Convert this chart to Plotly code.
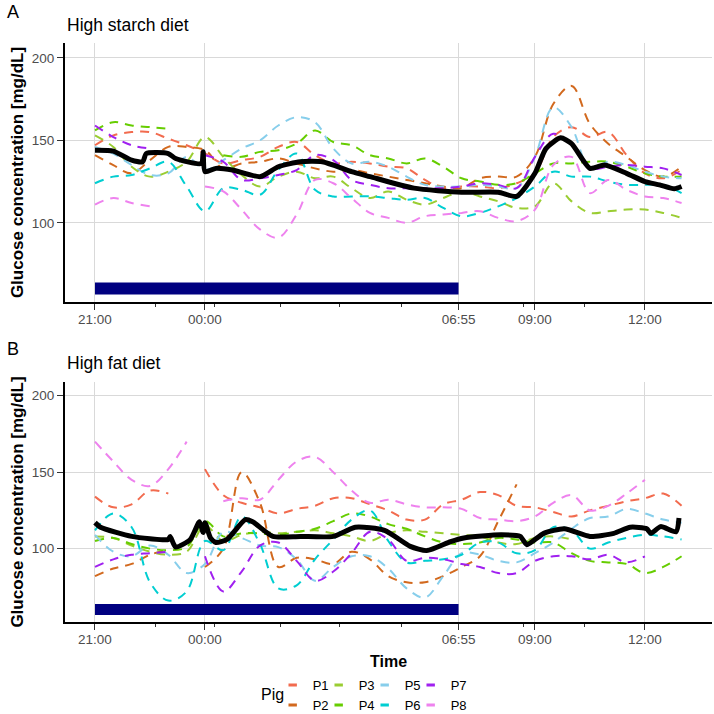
import plotly.graph_objects as go
from datetime import datetime, timedelta

# ---------------- data ----------------
pigs = ["P1", "P2", "P3", "P4", "P5", "P6", "P7", "P8"]
pig_colors = ["#F26B4E", "#D2691E", "#9ACD32", "#66CD00", "#87CEEB", "#00CED1", "#A020F0", "#EE82EE"]

# hours after 21:00, 30-minute steps
hours = [i * 0.5 for i in range(33)]

starch_P1 = [147,153,155,155,151,147,142,136,138,140,146,149,141,136,137,136,134,133,126,121,122,122,121,124,130,152,158,152,155,141,130,127,132]
starch_P2 = [141,135,130,138,146,146,144,133,136,137,139,136,133,131,132,130,128,126,124,122,121,127,128,128,140,172,183,160,148,140,132,128,134]
starch_P3 = [153,146,134,128,131,137,152,140,129,122,128,131,127,128,121,115,119,114,111,115,119,116,113,109,110,124,113,106,107,108,108,106,103]
starch_P4 = [156,161,159,158,157,None,None,141,140,143,144,148,156,149,147,141,139,136,139,134,127,125,123,124,130,136,136,137,137,134,130,128,128]
starch_P5 = [146,142,135,129,130,140,132,138,145,150,159,164,161,145,136,137,134,128,123,122,122,123,122,121,140,170,158,133,137,135,131,128,127]
starch_P6 = [124,128,129,133,137,122,107,121,120,117,132,142,120,116,116,116,115,114,115,109,104,106,110,115,122,131,128,128,125,123,123,123,118]
starch_P7 = [159,152,147,145,None,None,141,137,126,127,129,132,141,138,126,123,121,121,121,121,122,124,123,121,140,154,147,133,134,135,134,133,129]
starch_P8 = [111,115,112,110,None,None,122,119,108,96,91,105,126,124,115,106,103,100,104,105,106,107,103,101,108,135,140,118,126,120,116,115,112]

fat_P1 = [134,127,129,138,136,None,152,135,130,127,123,126,128,133,133,129,125,119,119,129,132,137,135,128,127,124,121,125,128,131,133,136,128]
fat_P2 = [82,87,90,96,99,None,88,100,150,130,88,94,93,90,98,93,82,78,78,82,88,95,118,142,None,None,None,None,None,None,None,None,None]
fat_P3 = [108,107,102,98,96,98,115,105,109,111,110,111,112,110,108,105,110,112,111,110,109,108,104,103,107,108,106,None,None,None,None,None,None]
fat_P4 = [105,107,103,100,99,101,118,108,110,110,109,111,113,118,123,121,116,113,108,104,103,104,107,106,104,104,97,92,91,90,84,88,95]
fat_P5 = [109,98,95,102,96,84,90,111,107,102,101,93,79,88,95,95,87,74,68,82,97,96,92,91,97,104,113,120,121,126,123,119,117]
fat_P6 = [112,123,114,78,66,72,105,99,121,103,74,76,93,106,119,125,105,91,92,93,96,104,104,97,99,114,112,100,104,107,109,108,106]
fat_P7 = [88,93,96,97,98,None,95,72,85,102,104,92,79,85,97,111,106,92,94,93,90,88,84,84,92,95,95,93,96,91,95,None,None]
fat_P8 = [170,157,145,141,152,170,None,131,133,132,145,157,160,150,138,130,132,129,127,127,126,120,119,118,121,130,135,125,128,136,145,None,None]

mean_starch_hours = [0,0.5,1.0,1.3,1.4,2.0,2.2,2.9,2.95,3.0,3.3,3.75,4.5,5.0,5.6,6.2,7.0,7.5,8.7,10.0,11.0,11.5,12.0,12.3,12.7,13.0,13.5,13.9,14.5,15.0,15.4,15.8,16.0]
mean_starch = [144,143.5,138,137,142,142,139,136,143,131,133,132,128,134,137,137,131,128,121,118.5,118.5,116,130,145,151.5,148,133,135,130,125,123,120.6,122]

mean_fat_hours = [0,0.15,1.0,1.5,2.0,2.05,2.2,2.6,2.85,2.95,3.0,3.15,3.3,3.6,4.1,4.3,4.85,5.6,6.5,7.1,7.9,8.6,9.05,9.7,10.06,11.07,11.6,11.78,12.24,12.8,13.5,14.15,14.6,15.05,15.16,15.43,15.85,15.93]
mean_fat = [117,114,108,106.5,106,108,101,106,117.6,110.5,117,107,104,106,119,117.6,108,108,108,114,112,101.5,98.7,104.6,107,109,108,102.6,110,113,108,110,114,113,110,114.4,111,120]

night_start_h = 0.0          # 21:00
night_end_h = 9 + 55 / 60    # 06:55

tick_hours = [0, 3, night_end_h, 12, 15]
tick_labels = ["21:00", "00:00", "06:55", "09:00", "12:00"]
minor_tick_hours = [1.64, 3.27, 5.05, 6.68, 8.35, 11.70, 13.34]

# ---------------- helpers ----------------
BASE = datetime(2021, 1, 1, 21, 0)
def T(h):
    return BASE + timedelta(hours=h)

starch = [starch_P1, starch_P2, starch_P3, starch_P4, starch_P5, starch_P6, starch_P7, starch_P8]
fat = [fat_P1, fat_P2, fat_P3, fat_P4, fat_P5, fat_P6, fat_P7, fat_P8]

FONT = "Liberation Sans, Arial, sans-serif"
fig = go.Figure()

for panel, (series, mh, mv) in enumerate([(starch, mean_starch_hours, mean_starch),
                                           (fat, mean_fat_hours, mean_fat)]):
    xa = "x" if panel == 0 else "x2"
    ya = "y" if panel == 0 else "y2"
    for name, col, vals in zip(pigs, pig_colors, series):
        fig.add_trace(go.Scatter(
            x=[T(h) for h in hours], y=vals, mode="lines",
            line=dict(color=col, width=2, dash="9px,7px", shape="spline", smoothing=1.0),
            connectgaps=False, showlegend=False, name=name, xaxis=xa, yaxis=ya,
            hoverinfo="skip"))
    fig.add_trace(go.Scatter(
        x=[T(h) for h in mh], y=mv, mode="lines",
        line=dict(color="black", width=5, shape="spline", smoothing=0.6),
        showlegend=False, name="Mean", xaxis=xa, yaxis=ya, hoverinfo="skip"))
    fig.add_shape(type="rect", xref=xa, yref=ya,
                  x0=T(night_start_h), x1=T(night_end_h), y0=56.5, y1=63.8,
                  fillcolor="#000080", line=dict(width=0), layer="above")

# legend entries (two rows, column-major like the original)
for i, (name, col) in enumerate(zip(pigs, pig_colors)):
    fig.add_trace(go.Scatter(
        x=[None], y=[None], mode="markers", name=name,
        marker=dict(symbol="line-ew", size=6, color=col, line=dict(color=col, width=3)),
        legend="legend" if i % 2 == 0 else "legend2", showlegend=True,
        legendwidth=(20 if i >= 6 else 1)))

x_range = [T(-0.818), T(16.83)]
common_x = dict(
    range=x_range, tickmode="array", tickvals=[T(h) for h in tick_hours], ticktext=tick_labels,
    showgrid=True, gridcolor="#D9D9D9", gridwidth=1, zeroline=False,
    showline=True, linecolor="black", linewidth=2,
    ticks="outside", ticklen=6, tickwidth=1, tickcolor="#333333",
    ticklabelstandoff=-2,
    tickfont=dict(family=FONT, size=13.5, color="#4D4D4D"),
    minor=dict(tickmode="array", tickvals=[T(h) for h in minor_tick_hours],
               ticks="outside", ticklen=3, tickwidth=1, tickcolor="#333333", showgrid=False),
)
common_y = dict(
    range=[52, 209], tickmode="array", tickvals=[100, 150, 200],
    showgrid=True, gridcolor="#D9D9D9", gridwidth=1, zeroline=False,
    showline=True, linecolor="black", linewidth=2,
    ticks="outside", ticklen=6, tickwidth=1, tickcolor="#333333",
    tickfont=dict(family=FONT, size=13.5, color="#4D4D4D"),
    title=dict(text="<b>Glucose concentration [mg/dL]</b>", font=dict(family=FONT, size=17, color="black"), standoff=4),
)

leg_common = dict(orientation="h", x=0.321, xanchor="left", yanchor="middle",
                  entrywidth=1, entrywidthmode="pixels", itemsizing="trace",
                  font=dict(family=FONT, size=13, color="black"), bgcolor="rgba(0,0,0,0)")

fig.update_layout(
    width=714, height=714,
    margin=dict(l=65, r=2, t=43, b=92, autoexpand=False),
    paper_bgcolor="white", plot_bgcolor="white",
    font=dict(family=FONT, color="black"),
    xaxis=dict(domain=[0, 1], anchor="y", **common_x),
    yaxis=dict(domain=[0.5527, 1], anchor="x", **common_y),
    xaxis2=dict(domain=[0, 1], anchor="y2",
                title=dict(text="<b>Time</b>", font=dict(family=FONT, size=16, color="black"), standoff=10),
                **common_x),
    yaxis2=dict(domain=[0, 0.4145], anchor="x2", **common_y),
    legend=dict(y=-0.1088, **leg_common),
    legend2=dict(y=-0.1434, **leg_common),
    annotations=[
        dict(text="A", x=-0.0927, y=1.0535, xref="paper", yref="paper", xanchor="left", yanchor="middle",
             showarrow=False, font=dict(family=FONT, size=18, color="black")),
        dict(text="High starch diet", x=0.0, y=1.031, xref="paper", yref="paper", xanchor="left", yanchor="middle",
             showarrow=False, font=dict(family=FONT, size=17.5, color="black")),
        dict(text="B", x=-0.0927, y=0.4715, xref="paper", yref="paper", xanchor="left", yanchor="middle",
             showarrow=False, font=dict(family=FONT, size=18, color="black")),
        dict(text="High fat diet", x=0.0, y=0.4473, xref="paper", yref="paper", xanchor="left", yanchor="middle",
             showarrow=False, font=dict(family=FONT, size=17.5, color="black")),
        dict(text="Pig", x=(259 - 65) / 647, y=-0.126, xref="paper", yref="paper", xanchor="left", yanchor="middle",
             showarrow=False, font=dict(family=FONT, size=16, color="black")),
    ],
)

fig.write_html("out.html")
